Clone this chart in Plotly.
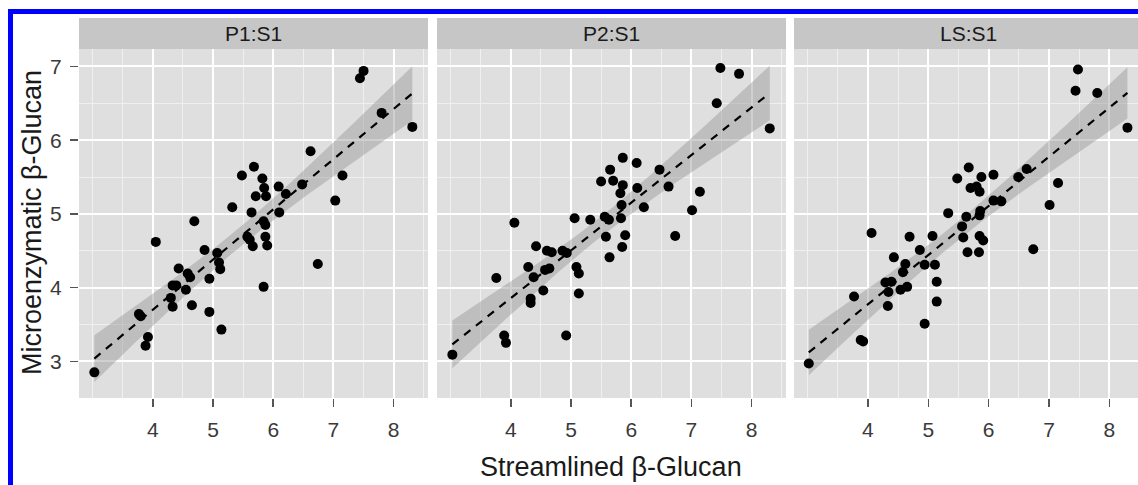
import numpy as np
import plotly.graph_objects as go

# ---------------- data ----------------
panels = ["P1:S1", "P2:S1", "LS:S1"]

p1_x = [3.03, 3.77, 3.80, 3.92, 3.88, 4.05, 4.69, 4.43, 4.33, 4.39, 4.30, 4.33, 4.55,
        4.58, 4.62, 4.65, 4.86, 4.94, 4.94, 5.07, 5.10, 5.12, 5.14, 5.32, 5.48, 5.57,
        5.61, 5.66, 5.64, 5.68, 5.71, 5.82, 5.85, 5.88, 5.84, 5.87, 5.87, 5.90, 5.84,
        6.09, 6.10, 6.21, 6.48, 6.62, 6.74, 7.03, 7.15, 7.44, 7.50, 7.80, 8.31]
p1_y = [2.85, 3.64, 3.61, 3.33, 3.21, 4.62, 4.90, 4.26, 4.03, 4.03, 3.86, 3.74, 3.97,
        4.19, 4.14, 3.76, 4.51, 4.12, 3.67, 4.47, 4.34, 4.25, 3.43, 5.09, 5.52, 4.69,
        4.65, 4.56, 5.02, 5.64, 5.24, 5.48, 5.35, 5.24, 4.90, 4.85, 4.69, 4.57, 4.01,
        5.37, 5.02, 5.27, 5.40, 5.85, 4.32, 5.18, 5.52, 6.84, 6.94, 6.37, 6.18]

p2_x = [3.03, 3.76, 3.89, 3.92, 4.06, 4.29, 4.38, 4.33, 4.33, 4.42, 4.54, 4.57, 4.64,
        4.60, 4.68, 4.86, 4.93, 4.92, 5.06, 5.09, 5.13, 5.13, 5.32, 5.50, 5.56, 5.63,
        5.58, 5.65, 5.64, 5.86, 5.70, 5.86, 5.82, 5.84, 5.83, 5.90, 5.85, 6.09, 6.10,
        6.21, 6.47, 6.62, 6.73, 7.01, 7.14, 7.42, 7.48, 7.79, 8.30]
p2_y = [3.09, 4.13, 3.35, 3.25, 4.88, 4.28, 4.14, 3.85, 3.79, 4.56, 3.96, 4.24, 4.26,
        4.50, 4.48, 4.50, 4.47, 3.35, 4.94, 4.28, 4.19, 3.92, 4.92, 5.44, 4.96, 4.92,
        4.69, 5.60, 4.41, 5.76, 5.45, 5.39, 5.28, 5.12, 4.94, 4.71, 4.55, 5.69, 5.35,
        5.09, 5.60, 5.37, 4.70, 5.05, 5.30, 6.50, 6.98, 6.90, 6.16]

p3_x = [3.02, 3.77, 3.88, 3.92, 4.06, 4.29, 4.39, 4.34, 4.33, 4.43, 4.54, 4.65, 4.58,
        4.62, 4.69, 4.86, 4.94, 4.94, 5.07, 5.11, 5.14, 5.14, 5.33, 5.48, 5.56, 5.58,
        5.67, 5.88, 6.08, 5.70, 5.80, 5.85, 6.08, 6.21, 5.86, 5.85, 5.63, 5.85, 5.91,
        5.65, 5.84, 6.49, 6.63, 6.74, 7.01, 7.15, 7.44, 7.48, 7.80, 8.30]
p3_y = [2.97, 3.88, 3.29, 3.27, 4.74, 4.07, 4.08, 3.94, 3.75, 4.41, 3.97, 4.01, 4.21,
        4.32, 4.69, 4.51, 4.31, 3.51, 4.70, 4.31, 4.08, 3.81, 5.01, 5.48, 4.83, 4.68,
        5.63, 5.50, 5.53, 5.35, 5.37, 5.30, 5.18, 5.17, 5.04, 4.98, 4.96, 4.70, 4.64,
        4.48, 4.48, 5.50, 5.61, 4.52, 5.12, 5.42, 6.67, 6.96, 6.64, 6.17]

x_ticks = [4, 5, 6, 7, 8]
y_ticks = [3, 4, 5, 6, 7]
x_minor = [3, 3.5, 4.5, 5.5, 6.5, 7.5, 8.5]
y_minor = [2.5, 3.5, 4.5, 5.5, 6.5]
x_title = "Streamlined β-Glucan"
y_title = "Microenzymatic β-Glucan"

series = [(p1_x, p1_y), (p2_x, p2_y), (p3_x, p3_y)]

# ---------------- layout geometry (pixels) ----------------
W, H = 1138, 485
panel_px = [(79, 428), (437, 786), (794, 1138)]
x_ranges = [[2.775, 8.57], [2.775, 8.57], [2.775, 8.475]]
plot_top, plot_bot = 49, 398
strip_top = 18
y_range = [2.502, 7.237]

def px(v):
    return v / W

def py(v):
    return 1 - v / H

FONT = "Liberation Sans, Arial, sans-serif"
T975 = 2.01  # t quantile used for the 95% band

fig = go.Figure()
shapes = []
annotations = []

for i, ((xs, ys), name) in enumerate(zip(series, panels)):
    xa = "x" if i == 0 else f"x{i+1}"
    ya = "y" if i == 0 else f"y{i+1}"
    x = np.array(xs, dtype=float)
    y = np.array(ys, dtype=float)
    n = len(x)
    b1, b0 = np.polyfit(x, y, 1)
    resid = y - (b0 + b1 * x)
    s = np.sqrt(np.sum(resid ** 2) / (n - 2))
    xbar = x.mean()
    sxx = np.sum((x - xbar) ** 2)
    xg = np.linspace(x.min(), x.max(), 80)
    yg = b0 + b1 * xg
    se = s * np.sqrt(1 / n + (xg - xbar) ** 2 / sxx)
    lo = yg - T975 * se
    hi = yg + T975 * se

    fig.add_trace(go.Scatter(x=np.concatenate([xg, xg[::-1]]),
                             y=np.concatenate([hi, lo[::-1]]),
                             fill="toself", fillcolor="rgba(150,150,150,0.45)",
                             line=dict(width=0), mode="lines", hoverinfo="skip",
                             showlegend=False, xaxis=xa, yaxis=ya))
    fig.add_trace(go.Scatter(x=xs, y=ys, mode="markers",
                             marker=dict(color="black", size=10, line=dict(width=0)),
                             showlegend=False, xaxis=xa, yaxis=ya))
    fig.add_trace(go.Scatter(x=xg, y=yg, mode="lines",
                             line=dict(color="black", width=2.2, dash="8px,7px"),
                             showlegend=False, xaxis=xa, yaxis=ya))

    l, r = panel_px[i]
    axis_x = dict(domain=[px(l), px(r)], range=x_ranges[i], tickvals=x_ticks,
                  ticks="outside", ticklen=8, tickwidth=1.5, tickcolor="#555555",
                  ticklabelstandoff=5,
                  tickfont=dict(family=FONT, size=21, color="#3a3a3a"),
                  showgrid=True, gridcolor="white", gridwidth=2,
                  zeroline=False, showline=False, anchor=ya,
                  minor=dict(tickmode="array", tickvals=x_minor, showgrid=True,
                             gridcolor="#f0f0f0", gridwidth=1, ticks=""))
    axis_y = dict(domain=[py(plot_bot), py(plot_top)], range=y_range, tickvals=y_ticks,
                  ticks="outside" if i == 0 else "", ticklen=8, tickwidth=1.5,
                  tickcolor="#555555", showticklabels=(i == 0),
                  ticklabelstandoff=4,
                  tickfont=dict(family=FONT, size=21, color="#3a3a3a"),
                  showgrid=True, gridcolor="white", gridwidth=2,
                  zeroline=False, showline=False, anchor=xa,
                  minor=dict(tickmode="array", tickvals=y_minor, showgrid=True,
                             gridcolor="#f0f0f0", gridwidth=1, ticks=""))
    if i > 0:
        axis_y["matches"] = "y"
    fig.update_layout(**{("xaxis" if i == 0 else f"xaxis{i+1}"): axis_x,
                         ("yaxis" if i == 0 else f"yaxis{i+1}"): axis_y})

    # strip
    shapes.append(dict(type="rect", xref="paper", yref="paper",
                       x0=px(l), x1=px(r), y0=py(plot_top), y1=py(strip_top),
                       fillcolor="#c6c6c6", line=dict(width=0), layer="below"))
    centre = (l + (l + 349)) / 2
    annotations.append(dict(text=name, xref="paper", yref="paper",
                            x=px(centre), y=py((strip_top + plot_top) / 2),
                            xanchor="center", yanchor="middle", showarrow=False,
                            font=dict(family=FONT, size=21, color="#1a1a1a")))

# blue frame (top and left edges visible in the reference)
shapes.append(dict(type="rect", xref="paper", yref="paper", x0=px(8), x1=px(13),
                   y0=0, y1=py(9), fillcolor="#0000ff", line=dict(width=0)))
shapes.append(dict(type="rect", xref="paper", yref="paper", x0=px(8), x1=1,
                   y0=py(14), y1=py(9), fillcolor="#0000ff", line=dict(width=0)))

annotations.append(dict(text=x_title, xref="paper", yref="paper", x=px(611), y=py(467),
                        xanchor="center", yanchor="middle", showarrow=False,
                        font=dict(family=FONT, size=27, color="#1a1a1a")))
annotations.append(dict(text=y_title, xref="paper", yref="paper", x=px(32), y=py(223),
                        xanchor="center", yanchor="middle", showarrow=False, textangle=-90,
                        font=dict(family=FONT, size=27, color="#1a1a1a")))

fig.update_layout(width=W, height=H, autosize=False,
                  margin=dict(l=0, r=0, t=0, b=0, pad=0),
                  paper_bgcolor="white", plot_bgcolor="#dfdfdf",
                  shapes=shapes, annotations=annotations, showlegend=False,
                  hovermode=False)

fig.write_html("out.html",
               config={"displayModeBar": False, "staticPlot": True},
               post_script="document.body.style.margin='0';"
                           "document.body.style.overflow='hidden';")
